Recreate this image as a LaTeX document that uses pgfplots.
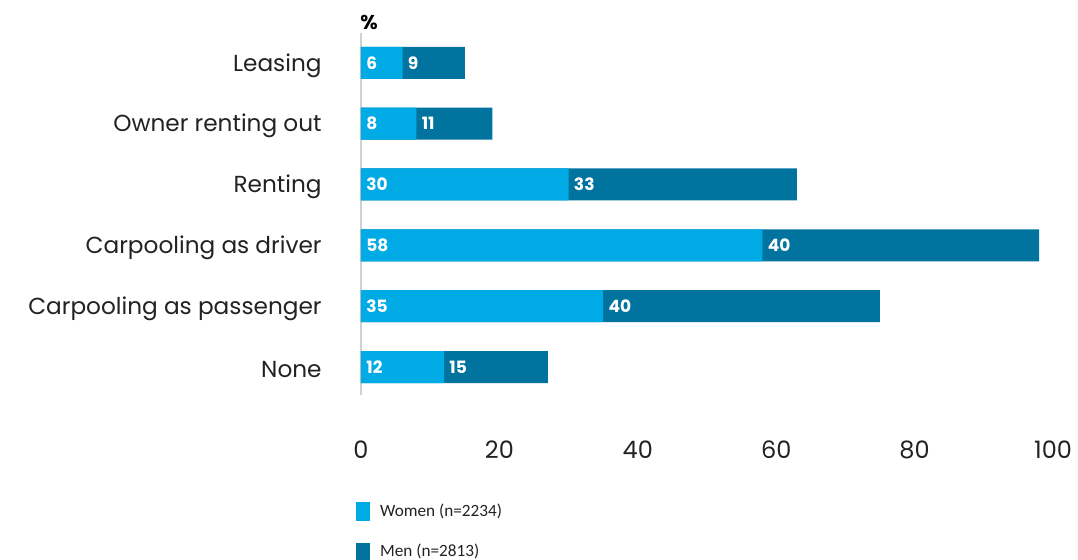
\documentclass[border=0pt]{standalone}
\usepackage{pgfplots}
\pgfplotsset{compat=1.18}
\usepackage{pgfplotstable}
\usepackage{fontspec}
\setmainfont{Poppins}
\newfontfamily\legfont{Carlito}
\definecolor{women}{HTML}{00AAE4}
\definecolor{men}{HTML}{00739F}
\definecolor{txt}{HTML}{222222}

\pgfplotstableread{
y w m
0 6 9
1 8 11
2 30 33
3 58 40
4 35 40
5 12 15
}\datatable

\begin{document}
\begin{tikzpicture}
\useasboundingbox (-180.5pt,-82.5pt) rectangle (358.5pt,197.5pt);
\begin{axis}[
 at={(0,0)}, anchor=south west,
 scale only axis, width=346pt, height=181pt,
 xbar, bar shift=0pt, bar width=16pt,
 xmin=0, xmax=100, ymin=-0.49, ymax=5.46, y dir=reverse,
 axis line style={draw=none},
 major tick length=0pt,
 xtick={0,20,40,60,80,100},
 ytick={0,1,2,3,4,5},
 yticklabels={Leasing, Owner renting out, Renting, Carpooling as driver, Carpooling as passenger, None},
 yticklabel style={anchor=east, xshift=-19.5pt, yshift=-1.3pt, inner sep=0pt, font=\fontsize{11.6}{13}\selectfont, text=txt},
 xticklabel style={anchor=center, yshift=-27.5pt, inner sep=0pt, font=\fontsize{12}{14}\selectfont, text=txt},
 /pgf/number format/assume math mode=true,
 extra x ticks={0}, extra x tick labels={},
 extra x tick style={xmajorgrids=true, major grid style={draw=black!18, line width=1pt}},
 legend style={draw=none, fill=none, inner sep=0pt, row sep=8.5pt,
   at={(axis description cs:-0.0072,-0.288)}, anchor=north west,
   font=\legfont\fontsize{8.6}{10}\selectfont, text=txt},
 legend cell align=left,
 clip=false,
]
\addlegendimage{legend image code/.code={\fill[women] (0pt,-4.5pt) rectangle (6.5pt,4.5pt); \path (9.5pt,0pt);}}
\addlegendentry{Women (n=2234)}
\addlegendimage{legend image code/.code={\fill[men] (0pt,-4.5pt) rectangle (6.5pt,4.5pt); \path (9.5pt,0pt);}}
\addlegendentry{Men (n=2813)}
\addplot[forget plot, fill=men, draw=none] table[x expr=\thisrow{w}+\thisrow{m}, y=y] {\datatable};
\addplot[forget plot, fill=women, draw=none] table[x=w, y=y] {\datatable};
\addplot[forget plot, sharp plot, draw=none, nodes near coords, point meta=explicit symbolic,
  nodes near coords style={anchor=west, xshift=2.5pt, inner sep=0pt, text=white, font=\bfseries\fontsize{8.5}{10}\selectfont}]
  table[x expr=0, y=y, meta=w] {\datatable};
\addplot[forget plot, sharp plot, draw=none, nodes near coords, point meta=explicit symbolic,
  nodes near coords style={anchor=west, xshift=2.5pt, inner sep=0pt, text=white, font=\bfseries\fontsize{8.5}{10}\selectfont}]
  table[x=w, y=y, meta=m] {\datatable};
\node[font=\bfseries\fontsize{10}{12}\selectfont, text=black] at (axis description cs:0.0116,1.03) {\%};
\end{axis}
\end{tikzpicture}
\end{document}
